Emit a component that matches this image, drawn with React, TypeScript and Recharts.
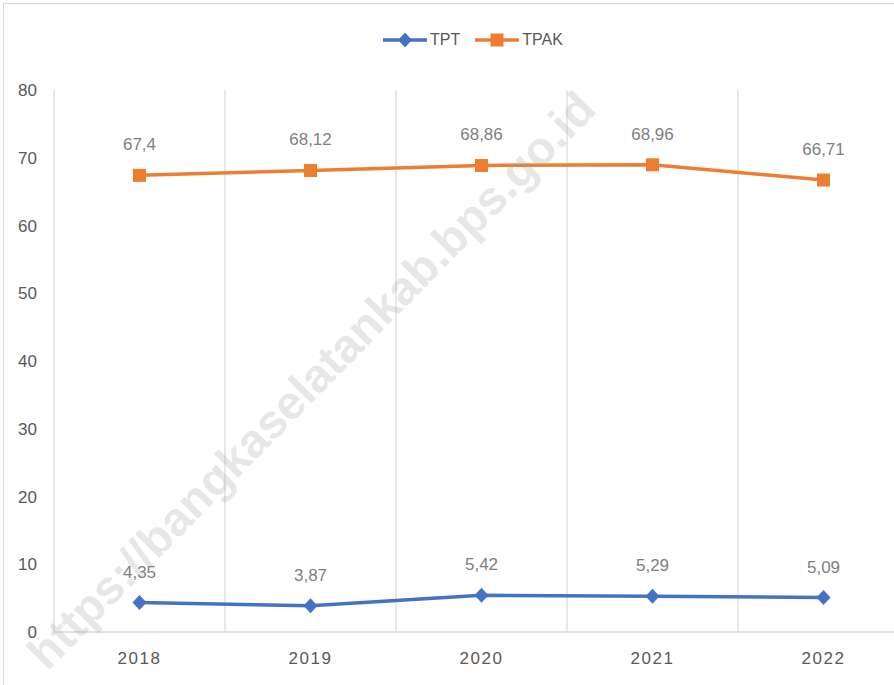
import { CartesianGrid, LabelList, Legend, Line, LineChart, XAxis, YAxis } from "recharts";

const years = ["2018", "2019", "2020", "2021", "2022"];
const tpt = [4.35, 3.87, 5.42, 5.29, 5.09];
const tpak = [67.4, 68.12, 68.86, 68.96, 66.71];
const yTicks = [0, 10, 20, 30, 40, 50, 60, 70, 80];

const data = years.map((year, i) => ({ year, TPT: tpt[i], TPAK: tpak[i] }));

const FONT = '"Liberation Sans", Arial, sans-serif';
const BLUE = "#4472C4";
const ORANGE = "#ED7D31";
const GRID = "#d9d9d9";

const fmt = (v: number) => String(v).replace(".", ",");

const Diamond = (props: any) => {
  const { cx, cy } = props;
  if (cx == null || cy == null) return null;
  return (
    <path
      key={props.index}
      d={`M${cx},${cy - 7.5} L${cx + 7},${cy} L${cx},${cy + 7.5} L${cx - 7},${cy} Z`}
      fill={BLUE}
    />
  );
};

const Square = (props: any) => {
  const { cx, cy } = props;
  if (cx == null || cy == null) return null;
  return <rect key={props.index} x={cx - 6.5} y={cy - 6.5} width={13} height={13} fill={ORANGE} />;
};

const legendItems = [
  { name: "TPT", color: BLUE, shape: "diamond" },
  { name: "TPAK", color: ORANGE, shape: "square" },
];

const renderLegend = () => (
  <div style={{ display: "flex", alignItems: "center", fontFamily: FONT, fontSize: 16, color: "#595959" }}>
    {legendItems.map((item) => (
      <div key={item.name} style={{ display: "flex", alignItems: "center", marginRight: 15 }}>
        <svg width={44} height={18}>
          <line x1={0} y1={9} x2={44} y2={9} stroke={item.color} strokeWidth={3.5} strokeLinecap="round" />
          {item.shape === "diamond" ? (
            <path d="M22,1.5 L29,9 L22,16.5 L15,9 Z" fill={item.color} />
          ) : (
            <rect x={15.5} y={2.5} width={13} height={13} fill={item.color} />
          )}
        </svg>
        <span style={{ marginLeft: 3 }}>{item.name}</span>
      </div>
    ))}
  </div>
);

export default function App() {
  return (
    <div
      style={{
        position: "absolute",
        left: 0,
        top: 0,
        width: 894,
        height: 685,
        overflow: "hidden",
        background: "#fff",
      }}
    >
      <div style={{ position: "absolute", left: 3, top: 3, border: `1px solid ${GRID}` }}>
        <LineChart width={930} height={700} data={data} margin={{ top: 86, right: 25, left: 0, bottom: 32 }}>
          <CartesianGrid
            horizontal={false}
            stroke={GRID}
            strokeWidth={1.2}
            verticalCoordinatesGenerator={({ offset }: any) =>
              years.map((_, i) => offset.left + (i * offset.width) / years.length).concat(offset.left + offset.width)
            }
          />
          <XAxis
            dataKey="year"
            height={40}
            padding={{ left: 85.5, right: 85.5 }}
            axisLine={{ stroke: GRID, strokeWidth: 1.5 }}
            tickLine={false}
            tickSize={0}
            tickMargin={20}
            tick={{ fill: "#595959", fontSize: 17, fontFamily: FONT, letterSpacing: 1.6 }}
          />
          <YAxis
            width={50}
            domain={[0, 80]}
            ticks={yTicks}
            axisLine={false}
            tickLine={false}
            tickSize={0}
            tickMargin={17}
            tick={{ fill: "#595959", fontSize: 17, fontFamily: FONT }}
          />
          <Legend
            layout="horizontal"
            verticalAlign="middle"
            align="center"
            content={renderLegend}
            wrapperStyle={{ position: "absolute", top: 27, left: 379, width: 320 }}
          />
          <Line
            dataKey="TPT"
            stroke={BLUE}
            strokeWidth={3.5}
            dot={Diamond}
            activeDot={false}
            isAnimationActive={false}
          >
            <LabelList
              dataKey="TPT"
              position="top"
              offset={25}
              formatter={(v: any) => fmt(v)}
              fill="#7f7f7f"
              fontSize={17}
              fontFamily={FONT}
            />
          </Line>
          <Line
            dataKey="TPAK"
            stroke={ORANGE}
            strokeWidth={3.5}
            dot={Square}
            activeDot={false}
            isAnimationActive={false}
          >
            <LabelList
              dataKey="TPAK"
              position="top"
              offset={25}
              formatter={(v: any) => fmt(v)}
              fill="#7f7f7f"
              fontSize={17}
              fontFamily={FONT}
            />
          </Line>
        </LineChart>
      </div>
      <svg
        width={894}
        height={685}
        style={{ position: "absolute", left: 0, top: 0, pointerEvents: "none" }}
      >
        <text
          x={311}
          y={380}
          transform="rotate(-45.5 311 380)"
          textAnchor="middle"
          dominantBaseline="central"
          fontFamily={FONT}
          fontWeight="bold"
          fontSize={47}
          fill="#a1a1a1"
          fillOpacity={0.27}
        >
          https://bangkaselatankab.bps.go.id
        </text>
      </svg>
    </div>
  );
}
